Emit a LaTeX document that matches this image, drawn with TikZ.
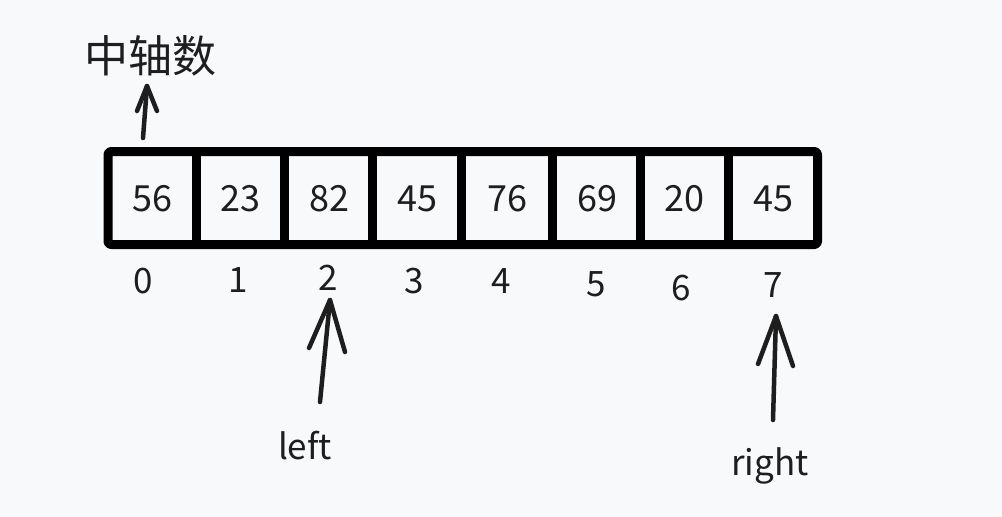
\documentclass[tikz,border=0pt]{standalone}
\usepackage{fontspec}
\setmainfont{Noto Sans CJK SC}
\definecolor{bg}{HTML}{F8F9FA}
\definecolor{ink}{HTML}{1E1E1E}
\begin{document}
\begin{tikzpicture}[x=1pt,y=-1pt,
  val/.style={inner sep=0pt,text=ink,font=\fontsize{36}{40}\selectfont},
  idx/.style={inner sep=0pt,text=ink,font=\fontsize{35}{40}\selectfont},
  lbl/.style={inner sep=0pt,text=ink,font=\fontsize{35}{40}\selectfont},
  grid/.style={draw=black,line width=9pt,line join=round},
  arr/.style={draw=ink,line width=4.5pt,line cap=round,line join=round}]
\fill[bg] (0,0) rectangle (1002,517);
\useasboundingbox (0,0) rectangle (1002,517);
% array
\draw[grid,rounded corners=3pt] (108,151.5) rectangle (817.5,244.5);
\foreach \x in {196,284.5,372.5,461.5,552,640,728.5}
  \draw[grid] (\x,151.5) -- (\x,244.5);
% values
\node[val] (v0) at (152,199) {56};
\node[val] (v1) at (240,199) {23};
\node[val] (v2) at (329,199) {82};
\node[val] (v3) at (417,199) {45};
\node[val] (v4) at (507,199) {76};
\node[val] (v5) at (597,199) {69};
\node[val] (v6) at (684,199) {20};
\node[val] (v7) at (773,199) {45};
% indices
\node[idx] (i0) at (143,281) {0};
\node[idx] (i1) at (238,280) {1};
\node[idx] (i2) at (328,278) {2};
\node[idx] (i3) at (414,281) {3};
\node[idx] (i4) at (501,281) {4};
\node[idx] (i5) at (596,284) {5};
\node[idx] (i6) at (681,288) {6};
\node[idx] (i7) at (773,285) {7};
% labels
\node[inner sep=0pt,text=ink,font=\fontsize{44}{48}\selectfont] (pivot) at (150,56) {中轴数};
\node[lbl] (left) at (305,446) {left};
\node[lbl] (right) at (770,466) {right};
% pivot arrow
\coordinate (pt) at (147,86);
\coordinate (pb) at (143,138);
\draw[arr] (pb) -- (pt);
\draw[arr] (137,111) -- (pt) -- (157,111);
% left arrow
\coordinate (lt) at (330,300);
\coordinate (lb) at (320,402);
\draw[arr] (lb) -- (lt);
\draw[arr] (309,348) -- (lt) -- (345,352);
% right arrow
\coordinate (rt) at (776,316);
\coordinate (rb) at (773,420);
\draw[arr] (rb) -- (rt);
\draw[arr] (758,364) -- (rt) -- (793,366);
\end{tikzpicture}
\end{document}
